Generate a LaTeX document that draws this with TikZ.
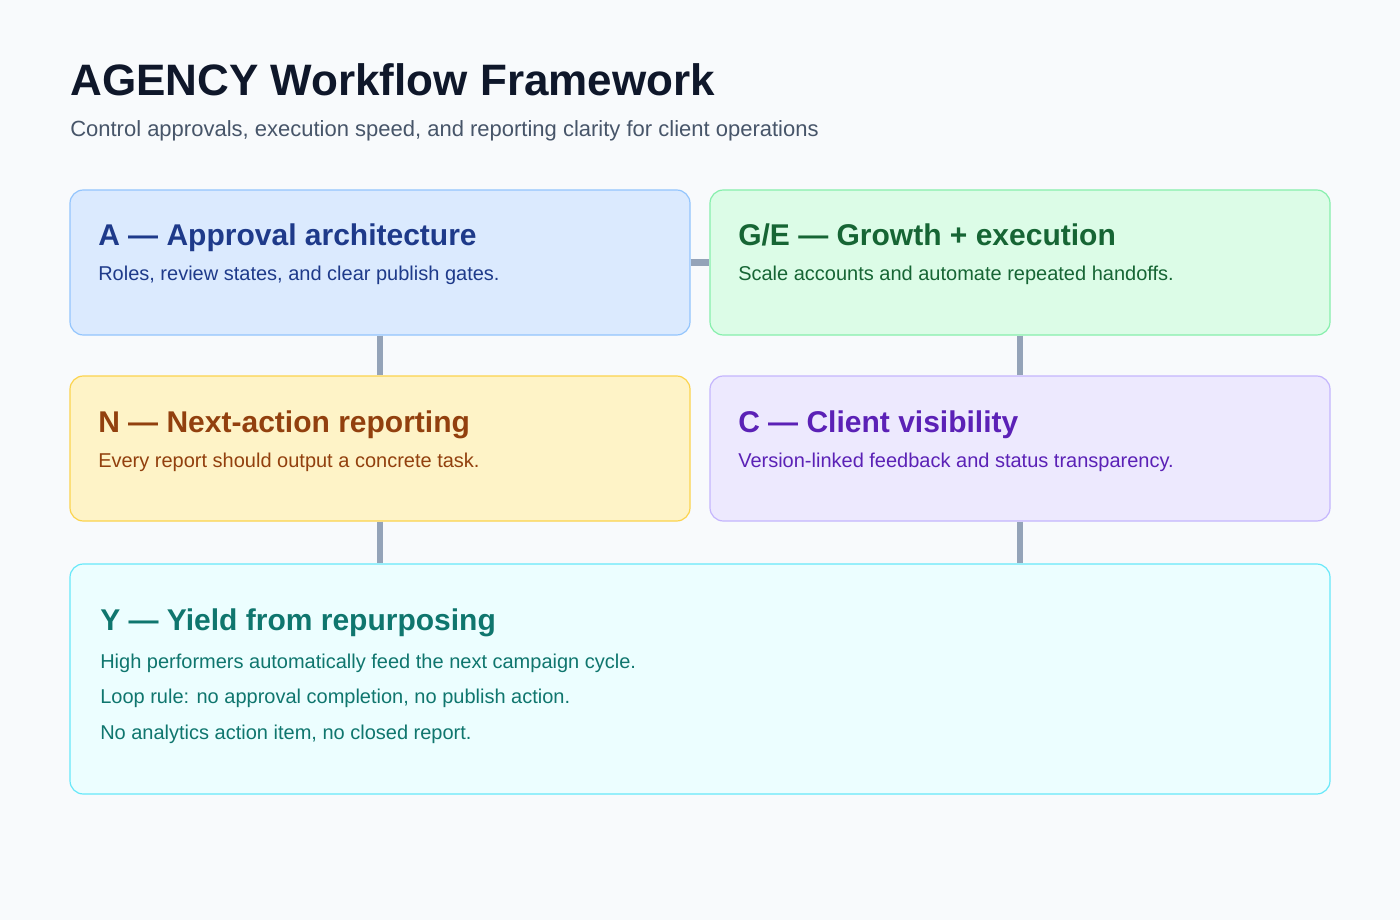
\documentclass[tikz,border=0pt]{standalone}
\usepackage{fontspec}
\setmainfont{Liberation Sans}
\usetikzlibrary{positioning}
\definecolor{bgpage}{HTML}{F8FAFC}
\definecolor{linkgray}{HTML}{94A3B8}
\definecolor{titleink}{HTML}{0F172A}
\definecolor{subink}{HTML}{475569}
\definecolor{afill}{HTML}{DBEAFE}\definecolor{aline}{HTML}{93C5FD}\definecolor{aink}{HTML}{1E3A8A}
\definecolor{gfill}{HTML}{DCFCE7}\definecolor{gline}{HTML}{86EFAC}\definecolor{gink}{HTML}{166534}
\definecolor{nfill}{HTML}{FEF3C7}\definecolor{nline}{HTML}{FCD34D}\definecolor{nink}{HTML}{92400E}
\definecolor{cfill}{HTML}{EDE9FE}\definecolor{cline}{HTML}{C4B5FD}\definecolor{cink}{HTML}{5B21B6}
\definecolor{yfill}{HTML}{ECFEFF}\definecolor{yline}{HTML}{67E8F9}\definecolor{yink}{HTML}{0F766E}
\tikzset{
  card/.style={draw, line width=0.9pt, rounded corners=10pt, inner sep=0pt,
    minimum width=465pt, minimum height=108.75pt},
  link/.style={draw=linkgray, line width=4.5pt},
  head/.style={anchor=base west, inner sep=0pt, font=\fontsize{22.5}{26}\selectfont\bfseries},
  body/.style={anchor=base west, inner sep=0pt, font=\fontsize{15}{18}\selectfont},
}
\begin{document}
\begin{tikzpicture}[x=0.75pt,y=0.75pt,yscale=-1,xscale=1]
\fill[bgpage] (0,0) rectangle (1400,920);
\useasboundingbox (0,0) rectangle (1400,920);

% heading
\node[anchor=base west, inner sep=0pt, text=titleink, font=\fontsize{33}{38}\selectfont\bfseries] (title) at (70,96) {AGENCY Workflow Framework};
\node[anchor=base west, inner sep=0pt, text=subink, font=\fontsize{16.5}{20}\selectfont] (subtitle) at (70,137) {Control approvals, execution speed, and reporting clarity for client operations};

% cards
\node[card, draw=aline, fill=afill] (appr) at (380,262.5) {};
\node[card, draw=gline, fill=gfill] (grow) at (1020,262.5) {};
\node[card, draw=nline, fill=nfill] (next) at (380,448.5) {};
\node[card, draw=cline, fill=cfill] (client) at (1020,448.5) {};
\node[card, draw=yline, fill=yfill, minimum width=945pt, minimum height=172.5pt] (yield) at (700,679) {};

% links
\draw[link] (appr.east) -- (grow.west);
\draw[link] (appr.south) -- (next.north);
\draw[link] (grow.south) -- (client.north);
\draw[link] (next.south) -- (next.south |- yield.north);
\draw[link] (client.south) -- (client.south |- yield.north);

% card texts
\node[head, text=aink] (apprhead) at (98,246) {A — Approval architecture};
\node[body, text=aink] (apprbody) at (98,281) {Roles, review states, and clear publish gates.};
\node[head, text=gink] (growhead) at (738,246) {G/E — Growth + execution};
\node[body, text=gink] (growbody) at (738,281) {Scale accounts and automate repeated handoffs.};
\node[head, text=nink] (nexthead) at (98,432) {N — Next-action reporting};
\node[body, text=nink] (nextbody) at (98,467) {Every report should output a concrete task.};
\node[head, text=cink] (clienthead) at (738,432) {C — Client visibility};
\node[body, text=cink] (clientbody) at (738,467) {Version-linked feedback and status transparency.};
\node[head, text=yink] (yieldhead) at (100,630) {Y — Yield from repurposing};
\node[body, text=yink] (yieldone) at (100,668) {High performers automatically feed the next campaign cycle.};
\node[body, text=yink] (yieldtwo) at (100,703) {Loop rule: no approval completion, no publish action.};
\node[body, text=yink] (yieldthree) at (100,739) {No analytics action item, no closed report.};
\end{tikzpicture}
\end{document}
